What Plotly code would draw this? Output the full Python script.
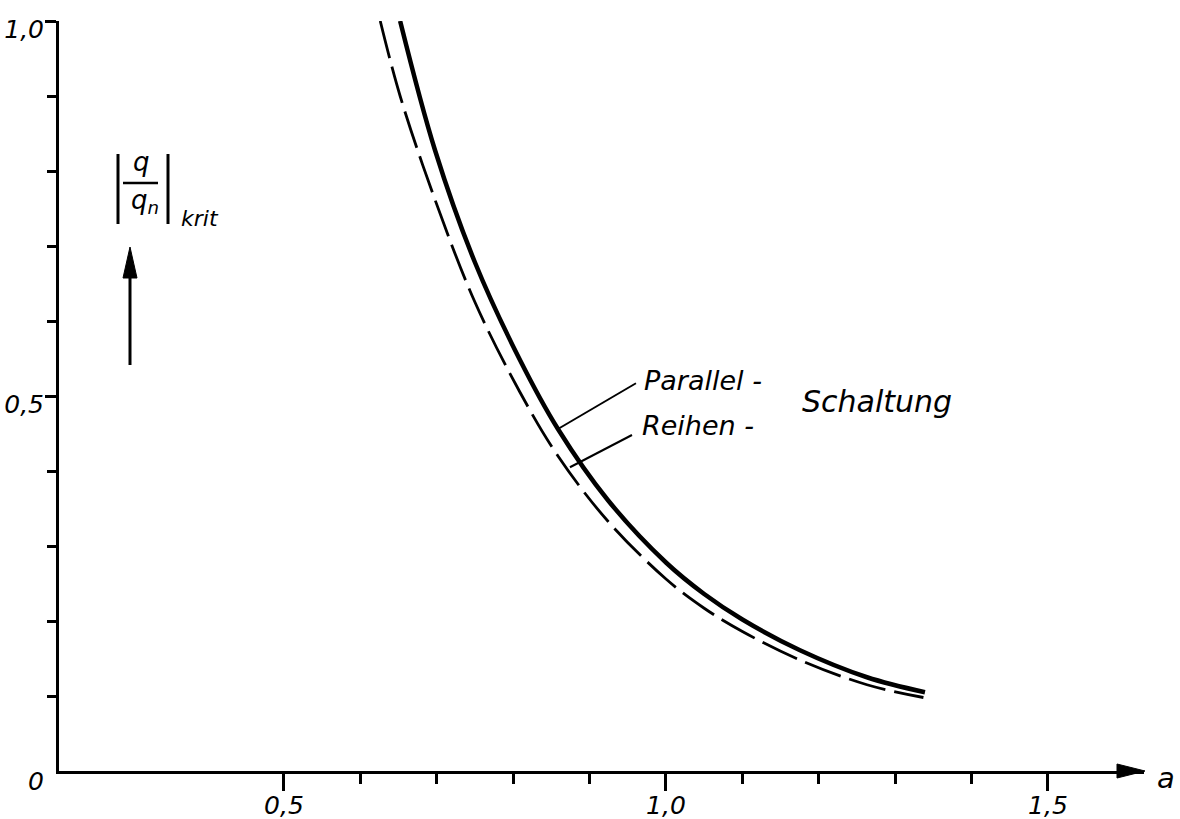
import plotly.graph_objects as go

# Critical load ratio (q/q_n)_krit over a, for the two circuit types
a_parallel = [0.652, 0.6976, 0.750, 0.8089, 0.8586, 0.9241, 1.000, 1.050, 1.100, 1.1754, 1.2631, 1.339]
q_parallel = [1.000, 0.828, 0.678, 0.548, 0.456, 0.361, 0.278, 0.236, 0.202, 0.161, 0.125, 0.105]

a_reihen = [0.626, 0.652, 0.6976, 0.750, 0.8089, 0.8586, 0.9241, 1.000, 1.050, 1.100, 1.1754, 1.2631, 1.337]
q_reihen = [1.000, 0.900, 0.762, 0.625, 0.505, 0.420, 0.333, 0.256, 0.217, 0.186, 0.148, 0.115, 0.098]

x_major = [0.5, 1.0, 1.5]
x_major_text = ["0,5", "1,0", "1,5"]
x_minor = [0.6, 0.7, 0.8, 0.9, 1.1, 1.2, 1.3, 1.4]
y_major = [0.5, 1.0]
y_major_text = ["0,5", "1,0"]
y_minor = [0.1, 0.2, 0.3, 0.4, 0.6, 0.7, 0.8, 0.9]

X_RANGE = [0.2055, 1.6257]
Y_RANGE = [0.0, 1.0]

W, H = 1180, 819
L, R, T, B = 59, 1144, 21, 771   # plot area in pixels

FONT = "DejaVu Sans"
INK = "black"


def fx(p):
    """pixel column -> paper x"""
    return (p - L) / (R - L)


def fy(p):
    """pixel row -> paper y"""
    return (B - p) / (B - T)


fig = go.Figure()

fig.add_trace(go.Scatter(
    x=a_parallel, y=q_parallel, mode="lines", name="Parallel-Schaltung",
    line=dict(color=INK, width=4.5, shape="spline", smoothing=1.0),
))
fig.add_trace(go.Scatter(
    x=a_reihen, y=q_reihen, mode="lines", name="Reihen-Schaltung",
    line=dict(color=INK, width=2.8, dash="38px,9px", shape="spline", smoothing=1.0),
))

tick_font = dict(family=FONT, size=25, color=INK, style="italic")

fig.update_layout(
    width=W, height=H,
    margin=dict(l=L, r=W - R, t=T, b=H - B, pad=0),
    paper_bgcolor="white", plot_bgcolor="white",
    showlegend=False,
    xaxis=dict(
        range=X_RANGE, showgrid=False, zeroline=False, automargin=False,
        showline=True, linewidth=3, linecolor=INK,
        tickmode="array", tickvals=x_major, ticktext=x_major_text,
        ticks="outside", ticklen=17, tickwidth=2.5, tickcolor=INK,
        tickfont=tick_font, ticklabelstandoff=-7, ticklabeloverflow="allow",
        minor=dict(tickmode="array", tickvals=x_minor, ticks="outside",
                   ticklen=10, tickwidth=2.5, tickcolor=INK, showgrid=False),
    ),
    yaxis=dict(
        range=Y_RANGE, showgrid=False, zeroline=False, automargin=False,
        showline=True, linewidth=3, linecolor=INK,
        tickmode="array", tickvals=y_major, ticktext=y_major_text,
        ticks="outside", ticklen=11, tickwidth=2.5, tickcolor=INK,
        tickfont=tick_font, ticklabelshift=8, ticklabelstandoff=-4,
        ticklabeloverflow="allow",
        minor=dict(tickmode="array", tickvals=y_minor, ticks="outside",
                   ticklen=9, tickwidth=2.5, tickcolor=INK, showgrid=False),
    ),
)

shapes = []

# arrow head at the end of the a-axis
shapes.append(dict(
    type="path", xref="paper", yref="paper",
    path=f"M {fx(1117)},{fy(764)} L {fx(1145)},{fy(771)} L {fx(1117)},{fy(778)} Z",
    fillcolor=INK, line=dict(color=INK, width=1),
))

# upward arrow under the ordinate label
shapes.append(dict(type="line", xref="paper", yref="paper",
                   x0=fx(130), y0=fy(365), x1=fx(130), y1=fy(272),
                   line=dict(color=INK, width=3)))
shapes.append(dict(
    type="path", xref="paper", yref="paper",
    path=f"M {fx(123)},{fy(278)} L {fx(130)},{fy(247)} L {fx(137)},{fy(278)} Z",
    fillcolor=INK, line=dict(color=INK, width=1),
))

# bars and fraction line of the ordinate label
for xb in (118, 168):
    shapes.append(dict(type="line", xref="paper", yref="paper",
                       x0=fx(xb), y0=fy(154), x1=fx(xb), y1=fy(224),
                       line=dict(color=INK, width=3)))
shapes.append(dict(type="line", xref="paper", yref="paper",
                   x0=fx(123), y0=fy(183), x1=fx(158), y1=fy(183),
                   line=dict(color=INK, width=2.5)))

# leader lines from the curves to their labels
shapes.append(dict(type="line", xref="x", yref="y",
                   x0=0.8586, y0=0.456, x1=0.9607, y1=0.517,
                   line=dict(color=INK, width=2)))
shapes.append(dict(type="line", xref="x", yref="y",
                   x0=0.8743, y0=0.405, x1=0.9555, y1=0.448,
                   line=dict(color=INK, width=2)))

fig.update_layout(shapes=shapes)


def label(text, x, y, size, xanchor="center", xref="paper", yref="paper"):
    fig.add_annotation(text=text, x=x, y=y, xref=xref, yref=yref,
                       xanchor=xanchor, yanchor="middle", showarrow=False,
                       font=dict(family=FONT, size=size, color=INK, style="italic"))


# origin and abscissa name
label("0", fx(36), fy(781), 25)
label("a", fx(1166), fy(778), 29)

# ordinate label (q / q_n)_krit
label("q", fx(141), fy(162), 26)
label("q<sub>n</sub>", fx(145), fy(202), 26)
label("krit", fx(200), fy(218), 22)

# curve labels
label("Parallel -", 0.9686, 0.521, 27, xanchor="left", xref="x", yref="y")
label("Reihen -", 0.966, 0.461, 27, xanchor="left", xref="x", yref="y")
label("Schaltung", 1.1754, 0.493, 30, xanchor="left", xref="x", yref="y")

fig.write_html("out.html")
